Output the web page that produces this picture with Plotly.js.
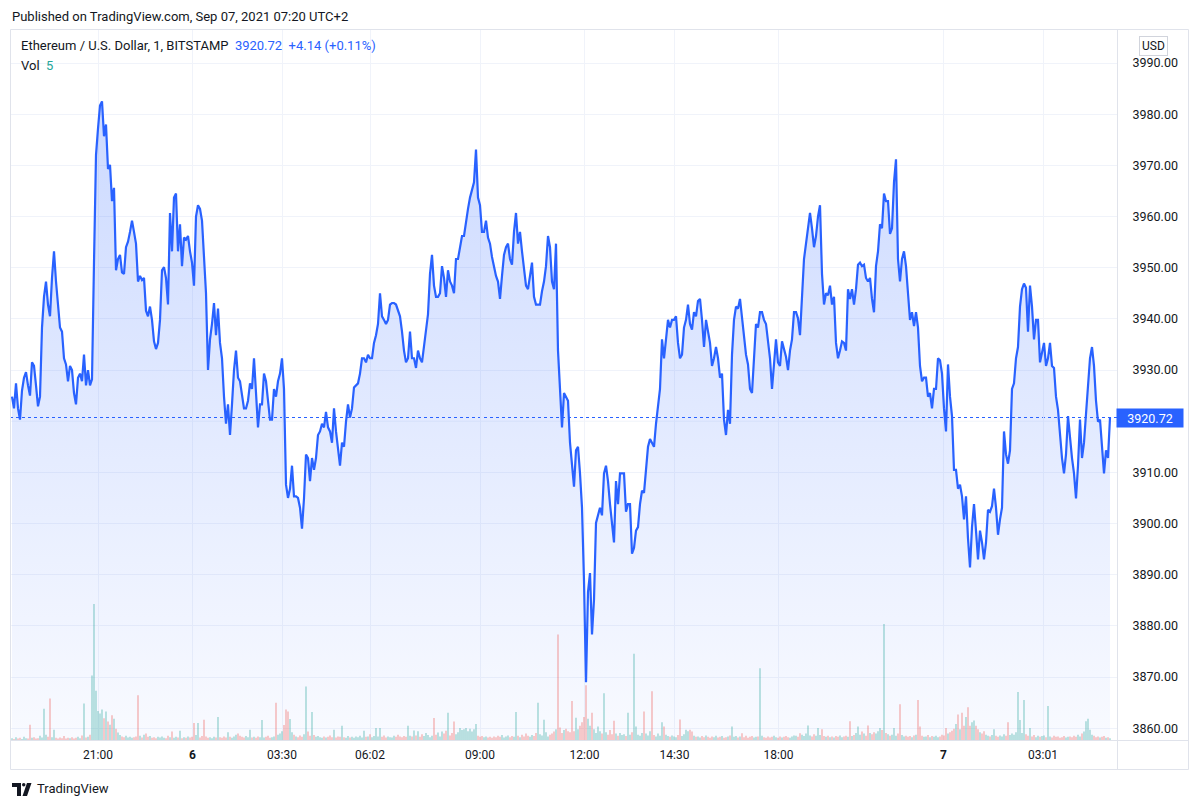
<!DOCTYPE html>
<html><head><meta charset="utf-8">
<script src="https://cdn.plot.ly/plotly-3.0.1.min.js"></script>
<style>html,body{margin:0;padding:0;background:#fff;}#chart{width:1200px;height:808px;}</style>
</head><body><div id="chart"></div>
<script>
// ETH/USD 1-minute closes, Bitstamp (one value per ~2px of the original time scale)
const close = [
3924.8,3922.5,3927.4,3922.5,3920.3,3926.0,3928.5,3929.6,3927.0,3925.0,
3931.5,3930.8,3927.0,3922.9,3924.8,3938.3,3944.3,3947.3,3942.8,3940.5,
3948.0,3953.2,3947.3,3942.8,3938.3,3937.5,3932.3,3931.1,3927.8,3930.8,
3930.0,3925.5,3923.3,3928.5,3929.3,3927.8,3933.0,3927.0,3930.0,3927.0,
3928.2,3951.0,3972.0,3977.2,3981.7,3982.5,3975.7,3978.0,3969.3,3970.1,
3963.0,3965.6,3949.5,3951.7,3952.5,3949.1,3948.8,3954.0,3955.1,3957.0,
3959.2,3957.0,3954.7,3947.3,3948.4,3947.6,3948.0,3941.6,3940.5,3942.4,
3939.8,3935.6,3934.1,3935.3,3939.8,3949.5,3950.1,3948.0,3942.8,3960.7,
3953.2,3963.7,3964.5,3953.2,3958.5,3950.3,3955.9,3955.5,3956.2,3953.2,
3951.0,3946.5,3960.0,3962.2,3961.5,3959.2,3953.2,3945.0,3930.0,3936.0,
3939.0,3943.1,3936.8,3942.0,3935.3,3932.3,3924.8,3919.5,3923.3,3917.3,
3923.3,3930.0,3933.8,3928.5,3927.8,3924.8,3922.5,3922.5,3924.0,3927.4,
3926.3,3932.3,3925.5,3918.8,3923.3,3923.3,3929.3,3927.8,3924.0,3920.3,
3920.3,3926.3,3924.8,3927.8,3929.3,3932.3,3926.3,3907.6,3905.0,3906.8,
3911.3,3905.3,3905.3,3905.0,3903.1,3899.0,3904.9,3913.5,3912.8,3908.3,
3912.8,3910.5,3912.8,3917.3,3918.0,3919.5,3918.8,3921.8,3918.8,3918.0,
3915.8,3922.5,3918.0,3914.3,3911.3,3915.8,3915.0,3919.9,3923.3,3920.7,
3922.5,3926.6,3927.0,3927.4,3929.3,3932.3,3932.3,3931.5,3933.0,3932.3,
3932.3,3935.3,3936.8,3939.0,3945.0,3940.5,3939.8,3939.0,3939.8,3942.8,
3943.1,3943.1,3942.8,3941.6,3940.5,3937.5,3933.8,3931.5,3932.3,3937.5,
3932.3,3932.3,3930.4,3933.8,3932.3,3931.5,3934.5,3938.3,3940.9,3948.8,
3952.5,3946.5,3944.3,3944.3,3945.0,3950.3,3948.0,3944.3,3949.5,3947.3,
3946.5,3945.0,3951.7,3951.7,3954.4,3956.2,3956.2,3959.2,3961.5,3963.7,
3965.2,3966.7,3973.1,3963.7,3962.2,3957.0,3957.0,3959.2,3955.9,3954.7,
3952.1,3950.3,3948.4,3947.3,3943.9,3948.4,3952.5,3954.0,3954.7,3951.7,
3950.6,3957.0,3960.7,3954.7,3957.0,3953.2,3949.5,3946.5,3945.8,3948.0,
3951.0,3944.3,3942.8,3942.8,3942.8,3945.4,3947.3,3950.3,3956.2,3954.0,
3947.3,3945.8,3954.7,3933.8,3926.3,3918.8,3925.5,3924.8,3924.0,3915.8,
3911.3,3907.2,3914.3,3915.0,3909.8,3903.1,3888.8,3869.0,3886.6,3890.3,
3878.3,3885.1,3900.1,3901.6,3903.1,3901.6,3909.8,3911.3,3908.3,3903.8,
3899.3,3896.3,3908.3,3903.8,3909.8,3909.8,3909.8,3902.3,3903.8,3903.8,
3894.1,3895.2,3898.6,3899.3,3903.8,3906.4,3906.0,3910.5,3915.0,3916.5,
3915.8,3915.0,3919.5,3922.5,3926.3,3936.0,3932.3,3936.0,3939.8,3938.3,
3939.8,3939.8,3940.5,3935.3,3932.3,3933.0,3938.3,3939.8,3942.8,3939.0,
3937.9,3941.3,3940.5,3943.5,3943.9,3939.8,3934.5,3939.8,3937.9,3935.3,
3930.8,3932.3,3934.5,3932.3,3928.5,3929.3,3920.3,3917.3,3922.2,3919.5,
3933.0,3939.8,3942.4,3942.0,3943.9,3939.8,3935.6,3933.0,3931.1,3926.3,
3925.5,3933.8,3939.0,3938.3,3941.3,3941.3,3939.8,3939.0,3935.3,3932.3,
3926.3,3931.5,3936.0,3931.5,3930.8,3935.6,3933.8,3932.6,3930.0,3933.8,
3936.0,3941.3,3941.3,3940.1,3936.8,3945.8,3951.7,3954.7,3957.7,3960.7,
3957.7,3954.0,3956.2,3960.0,3962.2,3948.8,3942.8,3945.0,3944.6,3946.5,
3942.8,3944.3,3935.3,3932.3,3933.8,3935.6,3935.3,3933.8,3945.8,3943.9,
3945.8,3942.8,3945.8,3950.6,3951.0,3950.3,3950.6,3948.0,3947.3,3948.0,
3943.9,3941.3,3950.3,3953.2,3958.5,3957.7,3964.5,3963.0,3963.0,3956.6,
3957.7,3966.7,3971.2,3951.7,3947.3,3951.7,3953.2,3950.3,3945.0,3939.8,
3941.3,3938.6,3941.3,3938.3,3930.8,3927.8,3928.5,3928.5,3924.8,3925.5,
3922.5,3926.3,3926.3,3932.3,3931.9,3929.3,3922.5,3918.0,3931.1,3924.8,
3921.0,3910.5,3910.5,3906.8,3907.6,3905.3,3900.8,3905.3,3897.1,3891.4,
3899.3,3903.8,3898.6,3893.0,3898.6,3896.3,3893.0,3896.3,3902.7,3902.3,
3903.4,3906.8,3903.1,3897.8,3900.8,3903.1,3918.0,3913.5,3911.7,3914.3,
3926.3,3927.4,3932.3,3934.5,3942.4,3945.8,3946.9,3946.1,3937.5,3946.5,
3942.4,3936.0,3939.8,3939.8,3931.5,3933.4,3935.3,3930.8,3932.3,3935.3,
3930.8,3930.4,3924.8,3922.2,3917.3,3912.8,3909.8,3913.5,3921.0,3916.5,
3912.8,3909.8,3904.9,3911.3,3920.3,3912.8,3915.8,3921.4,3927.8,3932.3,
3934.5,3930.8,3924.0,3919.9,3920.3,3915.8,3909.8,3914.3,3912.8,3920.72
];
// Volume (ETH) per bar
const volume = [
0.5,0.3,0.8,0.4,0.6,0.3,0.9,0.5,0.4,4.3,
0.6,0.8,0.4,0.5,1.2,0.7,8.8,1.5,0.9,11.7,
0.8,2.9,0.6,0.4,0.7,0.5,1.1,0.4,0.6,0.5,
0.8,0.4,0.6,0.9,0.5,1.3,10.3,0.7,0.9,1.5,
18.2,38.3,13.9,8.2,7.5,8.6,6.1,8.0,5.2,4.3,
7.0,6.0,3.2,2.1,1.4,1.0,0.8,1.2,0.7,0.9,
0.6,0.8,1.0,12.6,1.2,0.7,1.5,1.8,0.9,1.1,
0.6,0.8,0.5,0.9,0.7,1.0,0.6,0.5,1.2,0.8,
2.4,0.6,0.9,0.7,2.6,0.5,0.8,0.6,1.0,0.7,
0.9,4.8,1.4,4.8,0.7,1.1,5.7,1.0,0.6,0.8,
0.5,0.9,0.7,6.5,0.8,0.6,1.0,0.7,2.2,0.9,
0.6,1.0,1.5,1.8,1.2,0.9,0.7,1.1,0.8,2.9,
0.7,0.9,0.6,1.0,0.8,5.6,0.7,0.9,1.2,0.6,
0.8,1.0,10.5,1.5,1.8,2.5,4.2,8.6,8.0,5.9,
2.2,1.5,1.0,0.8,1.3,0.9,1.6,15.1,2.4,1.2,
7.9,1.4,0.9,1.1,0.8,0.6,1.0,0.7,0.9,1.3,
0.8,2.9,0.7,1.0,0.9,4.0,0.8,0.6,1.1,0.7,
0.9,0.6,1.0,0.8,1.2,0.7,2.6,0.9,1.0,1.6,
0.8,1.1,3.4,1.0,3.4,0.9,1.3,0.7,1.0,0.8,
0.7,1.2,0.9,1.5,1.0,0.8,1.1,0.9,4.0,1.2,
1.0,2.7,1.3,2.5,0.9,1.6,1.1,2.0,1.4,0.8,
1.2,6.2,1.5,2.1,1.0,2.4,1.8,2.6,7.7,1.3,
2.0,5.2,1.6,2.2,3.4,2.8,3.0,3.4,2.5,3.2,
2.4,3.0,4.5,1.2,0.9,1.1,0.8,1.0,0.7,0.9,
0.6,1.0,0.8,1.2,0.9,1.4,0.7,1.0,1.3,0.8,
1.1,0.9,7.9,1.2,0.8,1.5,1.0,1.8,1.2,0.9,
1.4,1.1,2.0,10.5,1.6,1.3,5.7,2.2,1.0,1.5,
1.8,2.4,3.0,29.7,3.5,2.0,2.8,3.2,2.5,2.2,
11.0,2.5,6.3,3.0,4.0,5.0,6.5,15.4,6.0,4.0,
7.7,3.0,2.0,3.8,2.5,1.8,13.2,2.2,1.5,2.8,
1.6,5.4,1.8,1.2,2.0,1.4,1.6,1.1,7.7,1.5,
2.2,24.3,3.8,1.5,1.2,2.0,8.0,1.8,1.3,2.5,
13.7,1.4,1.0,1.8,1.2,5.0,3.8,1.5,1.1,0.9,
1.3,1.0,0.8,1.4,5.8,1.1,1.6,2.9,2.5,2.9,
2.4,1.2,0.9,1.0,0.7,1.1,0.8,1.3,0.9,0.6,
1.0,0.8,1.2,0.7,0.9,1.1,0.6,0.8,1.0,1.3,
3.8,0.9,1.1,0.7,1.0,1.9,0.8,1.2,0.6,0.9,
1.1,0.7,0.9,1.0,20.2,1.2,0.8,0.6,1.0,0.7,
0.9,1.2,0.8,0.6,1.0,0.7,0.9,1.1,0.8,0.6,
1.0,1.3,1.2,0.9,1.9,1.5,1.1,1.8,4.1,1.3,
1.0,1.6,1.2,3.4,1.4,3.0,1.1,0.9,1.2,0.8,
1.0,0.7,1.1,0.9,1.3,0.8,1.0,1.2,0.9,5.3,
1.1,1.4,2.0,3.8,1.5,2.4,1.8,1.2,4.1,2.0,
1.6,2.2,1.8,2.5,3.4,2.8,32.7,2.0,1.6,1.2,
1.5,3.4,1.2,1.8,10.1,1.4,1.0,1.2,0.9,1.1,
0.8,1.3,1.5,11.3,3.8,1.2,0.9,1.0,1.4,0.8,
1.1,0.9,1.2,0.8,1.0,1.5,1.3,3.4,1.8,2.2,
2.6,3.2,4.5,7.2,3.0,7.7,4.0,6.5,9.2,4.0,
5.0,5.5,4.0,3.0,2.2,1.8,2.5,1.5,1.2,1.0,
1.4,3.0,1.2,0.9,1.3,1.0,1.6,1.2,5.0,1.4,
1.8,1.5,2.2,13.5,5.6,2.0,11.3,1.6,1.2,3.4,
1.0,1.4,0.8,1.2,0.9,1.1,1.3,0.8,9.6,1.0,
0.7,1.2,0.9,1.0,0.6,0.8,1.1,0.7,0.9,1.0,
0.8,1.2,0.9,1.5,1.0,1.8,2.4,5.3,6.0,2.9,
1.5,1.2,0.8,1.0,0.7,0.9,1.1,0.6,0.8,0.5
];
// Time-scale ticks (bar positions) and their labels
const tickBars = [43, 90.25, 135, 179, 234, 286.25, 331.25, 383.25, 465.75, 515.5];
const tickLabels = ['21:00', '<b>6</b>', '03:30', '06:02', '09:00', '12:00', '14:30', '18:00', '<b>7</b>', '03:01'];
// price grid levels; the 3920 label is hidden behind the last-price marker
const priceGrid = [3860, 3870, 3880, 3890, 3900, 3910, 3920, 3930, 3940, 3950, 3960, 3970, 3980, 3990];
const hiddenPriceLabel = 3920;
const symbolName = 'Ethereum / U.S. Dollar, 1, BITSTAMP';
const lastPrice = 3920.72;
const priceChange = 4.14;
const priceChangePct = 0.11;
const lastVolume = 5;
const publishedText = 'Published on TradingView.com, Sep 07, 2021 07:20 UTC+2';

const bars = close.map((_, i) => i);
const volColors = close.map((c, i) => (i === 0 || c >= close[i - 1]) ? 'rgba(38,166,154,0.5)' : 'rgba(239,83,80,0.5)');
const labelledTicks = priceGrid.filter(v => v !== hiddenPriceLabel);

// pixel helpers for frame decorations
const L = 10, R = 1117, T = 30, B = 740;
const px = x => (x - L) / (R - L);
const py = y => (B - y) / (B - T);
const frameColor = '#e0e3eb';
function pline(x0, y0, x1, y1) {
  return {type: 'line', xref: 'paper', yref: 'paper', x0: px(x0), x1: px(x1), y0: py(y0), y1: py(y1),
    line: {color: frameColor, width: 1}, layer: 'above'};
}
const font = 'Roboto, "Liberation Sans", Arial, sans-serif';

const traces = [
  {
    type: 'scatter', mode: 'lines', x: bars, y: close, xaxis: 'x', yaxis: 'y',
    line: {color: '#2962FF', width: 2.2},
    fill: 'tozeroy',
    fillgradient: {type: 'vertical', start: 3857.7, stop: 3983,
      colorscale: [[0, 'rgba(41,98,255,0.03)'], [1, 'rgba(41,98,255,0.24)']]},
    hoverinfo: 'skip'
  },
  {
    type: 'bar', x: bars, y: volume, xaxis: 'x', yaxis: 'y2', width: 0.6,
    marker: {color: volColors, line: {width: 0}}, hoverinfo: 'skip'
  }
];

const layout = {
  width: 1200, height: 808,
  margin: {l: L, r: 1200 - R, t: T, b: 808 - B},
  paper_bgcolor: '#ffffff', plot_bgcolor: '#ffffff',
  showlegend: false,
  font: {family: font, color: '#131722'},
  xaxis: {
    range: [-1, 552.5], tickmode: 'array', tickvals: tickBars, ticktext: tickLabels,
    showgrid: true, gridcolor: '#f0f3fa', gridwidth: 1, zeroline: false, showline: false,
    ticks: 'outside', ticklen: 4, tickcolor: 'rgba(0,0,0,0)',
    tickfont: {family: font, size: 12, color: '#131722'}, fixedrange: true
  },
  yaxis: {
    side: 'right', range: [3857.69, 3996.46], tickmode: 'array', tickvals: labelledTicks,
    tickformat: '.2f', showgrid: true, gridcolor: '#f0f3fa', zeroline: false, showline: false,
    ticks: 'outside', ticklen: 12, tickcolor: 'rgba(0,0,0,0)',
    tickfont: {family: font, size: 12.5, color: '#131722'}, fixedrange: true
  },
  yaxis2: {overlaying: 'y', range: [0, 200], visible: false, fixedrange: true},
  shapes: [
    {type: 'line', xref: 'paper', yref: 'y', x0: 0, x1: 1, y0: hiddenPriceLabel, y1: hiddenPriceLabel,
      line: {color: '#f0f3fa', width: 1}, layer: 'below'},
    {type: 'line', xref: 'paper', yref: 'y', x0: 0, x1: 1, y0: lastPrice, y1: lastPrice,
      line: {color: '#2962FF', width: 1, dash: 'dot'}, layer: 'below'},
    pline(10.5, 29.5, 1188.5, 29.5),
    pline(10.5, 29.5, 10.5, 769.5),
    pline(10.5, 769.5, 1188.5, 769.5),
    pline(1188.5, 29.5, 1188.5, 769.5),
    pline(1117.5, 29.5, 1117.5, 769.5),
    pline(10.5, 740.5, 1188.5, 740.5),
    // TradingView logo mark
    {type: 'path', xref: 'paper', yref: 'paper', layer: 'above', line: {width: 0}, fillcolor: '#131722',
      path: `M ${px(12)} ${py(783)} L ${px(21)} ${py(783)} L ${px(21)} ${py(796)} L ${px(17)} ${py(796)} L ${px(17)} ${py(787)} L ${px(12)} ${py(787)} Z`},
    {type: 'circle', xref: 'paper', yref: 'paper', layer: 'above', line: {width: 0}, fillcolor: '#131722',
      x0: px(22), x1: px(25.5), y0: py(786.5), y1: py(783)},
    {type: 'path', xref: 'paper', yref: 'paper', layer: 'above', line: {width: 0}, fillcolor: '#131722',
      path: `M ${px(27)} ${py(783)} L ${px(31.5)} ${py(783)} L ${px(27)} ${py(796)} L ${px(22.5)} ${py(796)} Z`}
  ],
  annotations: [
    {xref: 'paper', yref: 'paper', x: px(10), y: py(16), xanchor: 'left', yanchor: 'middle', showarrow: false,
      text: publishedText, font: {family: font, size: 13, color: '#131722'}},
    {xref: 'paper', yref: 'paper', x: px(19), y: py(46), xanchor: 'left', yanchor: 'middle', showarrow: false,
      text: symbolName + '&nbsp;&nbsp;<span style="color:#2962FF">' + lastPrice.toFixed(2) + '&nbsp;&nbsp;+' +
        priceChange.toFixed(2) + ' (+' + priceChangePct.toFixed(2) + '%)</span>',
      font: {family: font, size: 13, color: '#131722'}},
    {xref: 'paper', yref: 'paper', x: px(19), y: py(65), xanchor: 'left', yanchor: 'middle', showarrow: false,
      text: 'Vol&nbsp;&nbsp;<span style="color:#26a69a">' + lastVolume + '</span>',
      font: {family: font, size: 13, color: '#131722'}},
    {xref: 'paper', yref: 'y', x: px(1116), y: lastPrice, xanchor: 'left', yanchor: 'middle', showarrow: false,
      text: lastPrice.toFixed(2), bgcolor: '#2962FF', borderpad: 2, width: 62, height: 14, align: 'center',
      font: {family: font, size: 12.5, color: '#ffffff'}},
    {xref: 'paper', yref: 'paper', x: px(1153), y: py(46), xanchor: 'center', yanchor: 'middle', showarrow: false,
      text: 'USD', bordercolor: '#d1d4dc', borderwidth: 1, borderpad: 2,
      font: {family: font, size: 12, color: '#131722'}},
    {xref: 'paper', yref: 'paper', x: px(35), y: py(789), xanchor: 'left', yanchor: 'middle', showarrow: false,
      text: 'TradingView', font: {family: font, size: 13, color: '#131722'}}
  ]
};

Plotly.newPlot('chart', traces, layout, {displayModeBar: false, staticPlot: true});
</script>
</body></html>
